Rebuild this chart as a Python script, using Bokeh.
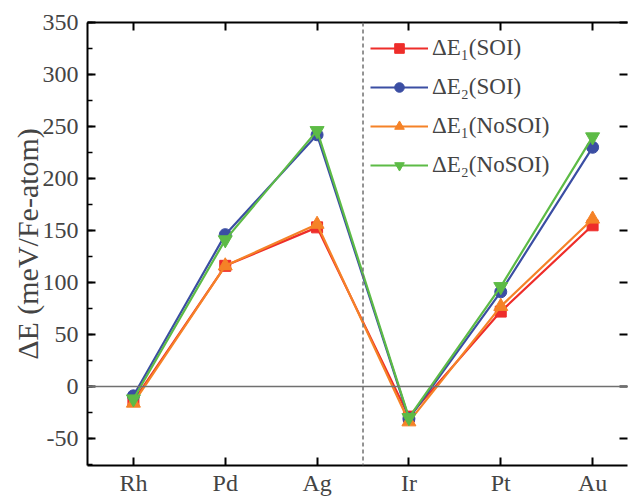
from bokeh.plotting import figure
from bokeh.models import (Range1d, FixedTicker, SingleIntervalTicker, LinearAxis,
                          Span, Legend, LegendItem, CustomLabelingPolicy)
from bokeh.embed import file_html
from bokeh.resources import INLINE

metals = ["Rh", "Pd", "Ag", "Ir", "Pt", "Au"]
dE1_soi = [-14, 116, 153, -29, 72, 155]
dE2_soi = [-9, 146, 242, -31, 91, 230]
dE1_nosoi = [-16, 116, 156, -34, 77, 161]
dE2_nosoi = [-12, 141, 246, -30, 96, 240]
series_labels = ["ΔE₁(SOI)", "ΔE₂(SOI)", "ΔE₁(NoSOI)", "ΔE₂(NoSOI)"]

FONT = "'Liberation Serif', 'Times New Roman', serif"
x = list(range(len(metals)))

p = figure(width=632, height=498, output_backend="svg", toolbar_location=None,
           x_range=Range1d(-0.5, 5.38), y_range=Range1d(-76, 350),
           x_axis_type=None, y_axis_type=None,
           min_border_top=22, min_border_right=0, min_border_left=87, min_border_bottom=0)
p.outline_line_color = None
p.xgrid.visible = False
p.ygrid.visible = False
p.background_fill_color = "white"

tick_style = dict(major_tick_in=8, major_tick_out=0, minor_tick_in=5, minor_tick_out=0,
                  axis_line_width=2, axis_line_color="black",
                  major_tick_line_width=2, minor_tick_line_width=1.5)

hide_all = CustomLabelingPolicy(code="for (const i of indices) { indices.unset(i) } return indices")

yax = LinearAxis(ticker=SingleIntervalTicker(interval=50, num_minor_ticks=2), **tick_style)
yax.axis_label = "ΔE (meV/Fe-atom)"
yax.axis_label_text_font = FONT
yax.axis_label_text_font_size = "30px"
yax.axis_label_text_font_style = "normal"
yax.axis_label_standoff = -4
yax.major_label_text_font = FONT
yax.major_label_text_font_size = "24px"
yax.major_label_standoff = 9
yax.major_label_overrides = {-50: "-50"}
p.add_layout(yax, "left")

xax = LinearAxis(ticker=FixedTicker(ticks=x), **tick_style)
xax.major_label_overrides = {i: m for i, m in enumerate(metals)}
xax.major_label_text_font = FONT
xax.major_label_text_font_size = "24px"
xax.major_label_standoff = 4
xax.axis_label_standoff = 0
p.add_layout(xax, "below")

tax = LinearAxis(ticker=FixedTicker(ticks=x), **tick_style)
tax.major_label_text_font_size = "1px"
tax.major_label_standoff = 0
tax.axis_label_standoff = 0
tax.major_label_policy = hide_all
p.add_layout(tax, "above")

rax = LinearAxis(ticker=SingleIntervalTicker(interval=50, num_minor_ticks=0), **tick_style)
rax.axis_line_color = None
rax.major_label_text_font_size = "1px"
rax.major_label_standoff = 0
rax.axis_label_standoff = 0
rax.major_label_policy = hide_all
p.add_layout(rax, "right")

p.add_layout(Span(location=0, dimension="width", line_color="#707070", line_width=1.5))
p.add_layout(Span(location=2.5, dimension="height", line_color="#707070", line_width=1.5,
                  line_dash="4 3"))

colors = ["#ee2d2a", "#3b4ea3", "#f58227", "#5dbb46"]
data = [dE1_soi, dE2_soi, dE1_nosoi, dE2_nosoi]
items = []
for i, (ys, c, lab) in enumerate(zip(data, colors, series_labels)):
    ln = p.line(x, ys, line_color=c, line_width=2.2)
    if i == 0:
        mk = p.scatter(x, ys, marker="square", size=11, fill_color=c, line_color=c)
    elif i == 1:
        mk = p.scatter(x, ys, marker="circle", size=12, fill_color=c, line_color=c)
    elif i == 2:
        mk = p.scatter(x, ys, marker="triangle", size=14, fill_color=c, line_color=c)
    else:
        mk = p.scatter(x, ys, marker="inverted_triangle", size=14, fill_color=c, line_color=c)
    items.append(LegendItem(label=lab, renderers=[ln, mk]))

legend = Legend(items=items, location=(283, 287), orientation="vertical",
                label_text_font=FONT, label_text_font_size="23px",
                glyph_width=58, glyph_height=24, label_height=24, label_standoff=4,
                spacing=13, padding=0, margin=0,
                border_line_color=None, background_fill_alpha=0)
p.add_layout(legend, "center")

open("out.html", "w").write(file_html(p, INLINE))
